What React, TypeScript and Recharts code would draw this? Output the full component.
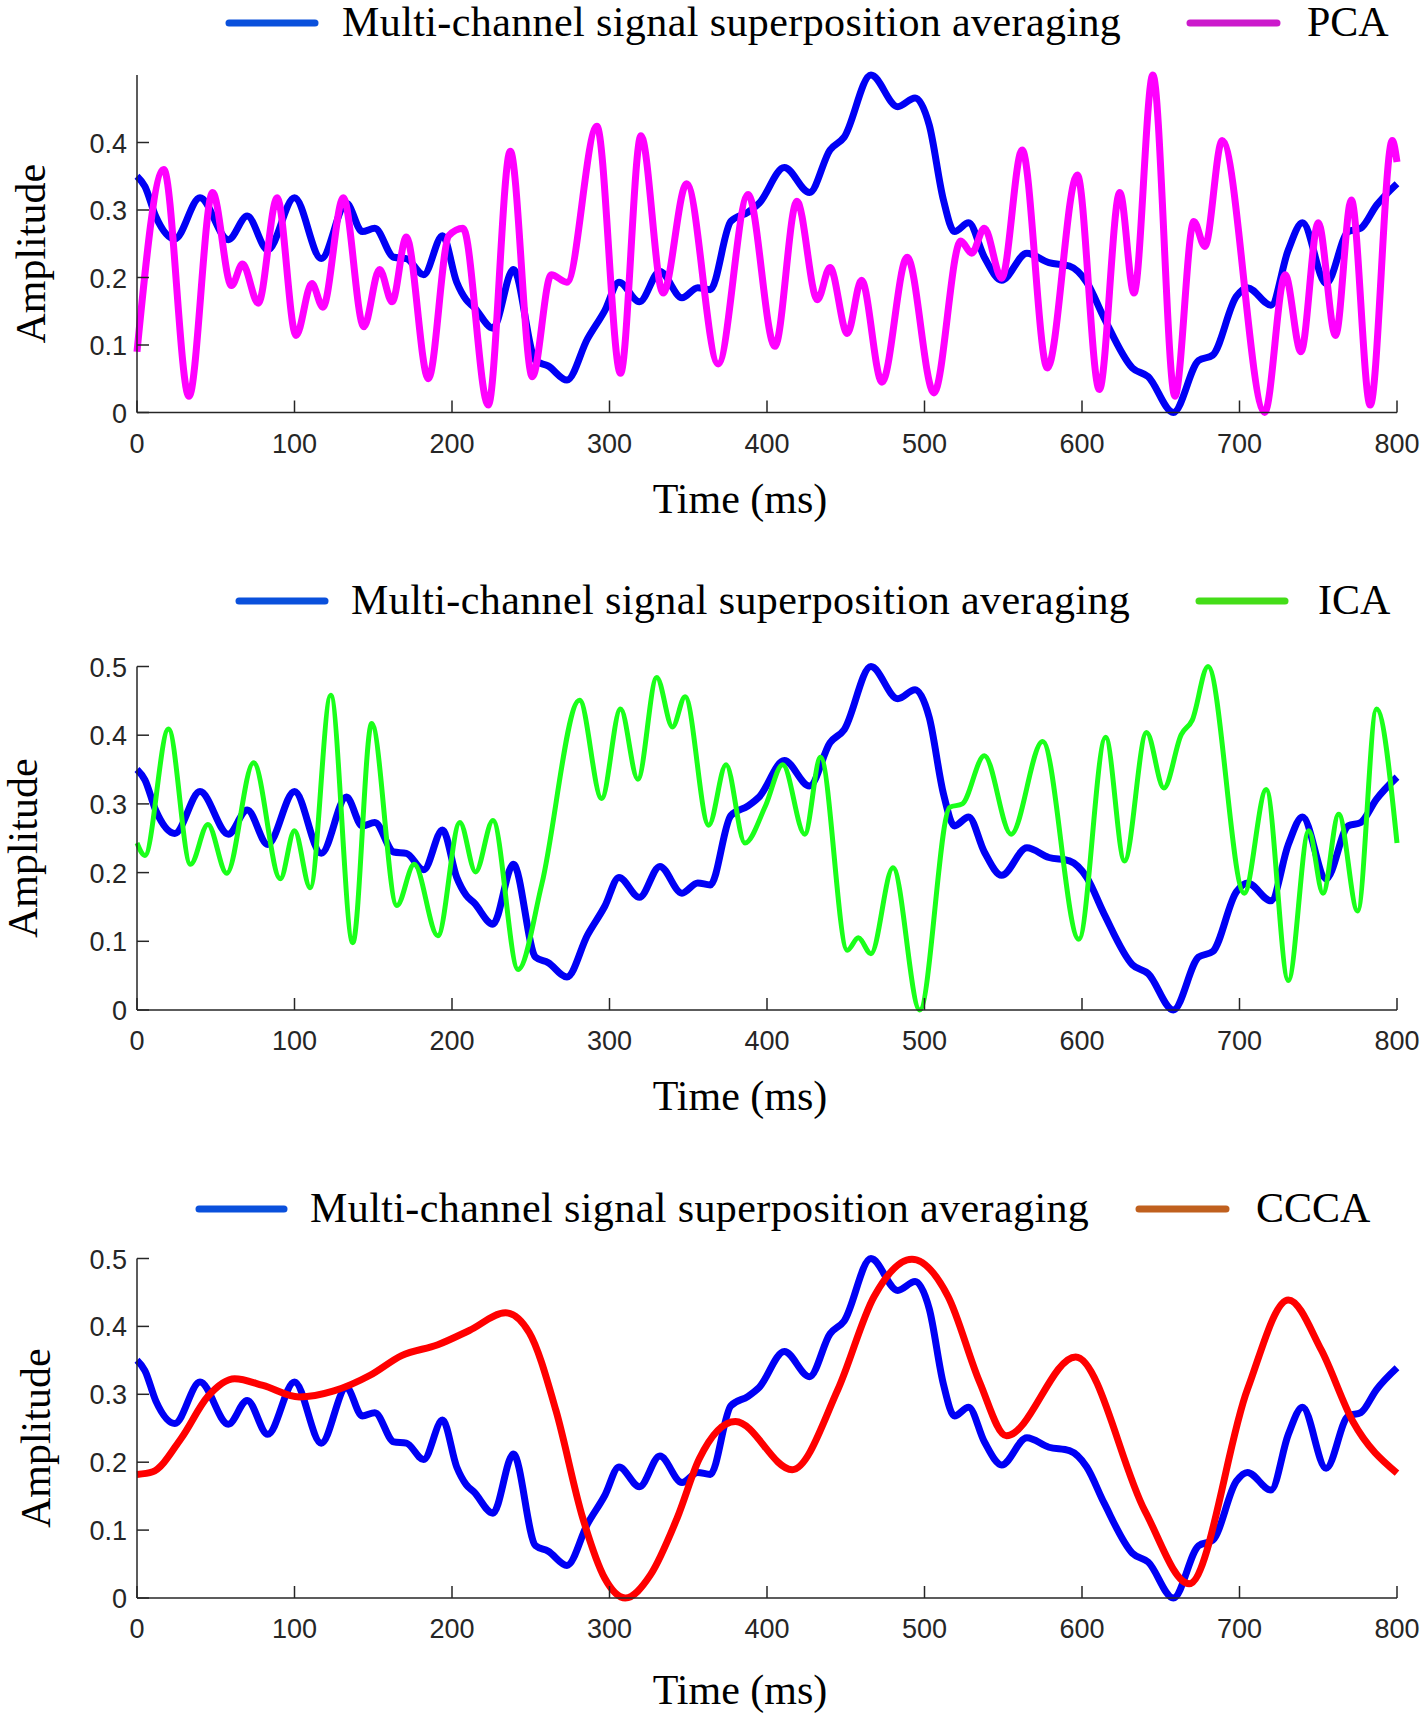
import React from 'react'
import { LineChart, Line, XAxis, YAxis } from 'recharts'

/* ---------- data ---------- */
const timeTicks = [0, 100, 200, 300, 400, 500, 600, 700, 800]
const ampTicksShort = [0, 0.1, 0.2, 0.3, 0.4]
const ampTicks = [0, 0.1, 0.2, 0.3, 0.4, 0.5]

// [time ms, amplitude]
const averaging: [number, number][] = [
  [0, 0.35], [5, 0.335], [12, 0.29], [24, 0.257], [40, 0.318], [58, 0.256], [70, 0.291],
  [83, 0.241], [100, 0.318], [117, 0.228], [133, 0.31], [143, 0.268], [151, 0.273],
  [163, 0.23], [171, 0.228], [182, 0.204], [194, 0.262], [203, 0.193], [209, 0.167],
  [214, 0.156], [226, 0.125], [239, 0.212], [253, 0.077], [261, 0.069], [273, 0.048],
  [286, 0.109], [297, 0.151], [306, 0.193], [319, 0.164], [332, 0.209], [346, 0.17],
  [356, 0.185], [364, 0.182], [377, 0.283], [388, 0.297], [395, 0.31], [411, 0.363],
  [427, 0.326], [440, 0.389], [449, 0.408], [466, 0.5], [483, 0.453], [494, 0.466],
  [503, 0.426], [512, 0.315], [519, 0.268], [528, 0.281], [538, 0.23], [549, 0.196],
  [565, 0.236], [579, 0.222], [592, 0.217], [603, 0.193], [614, 0.14], [632, 0.066],
  [642, 0.053], [658, 0], [674, 0.077], [683, 0.085], [698, 0.172], [705, 0.185],
  [720, 0.159], [731, 0.241], [740, 0.281], [755, 0.191], [769, 0.268], [777, 0.273],
  [787, 0.307], [800, 0.339],
]

const pca: [number, number][] = [
  [0, 0.09], [17, 0.36], [33, 0.024], [48, 0.326], [60, 0.188], [67, 0.22], [77, 0.162],
  [89, 0.318], [101, 0.114], [111, 0.191], [118, 0.156], [131, 0.318], [144, 0.127],
  [154, 0.212], [162, 0.164], [171, 0.26], [185, 0.05], [198, 0.262], [207, 0.273],
  [223, 0.011], [237, 0.387], [251, 0.053], [263, 0.204], [273, 0.193], [292, 0.424],
  [307, 0.058], [320, 0.41], [334, 0.177], [349, 0.339], [369, 0.072], [388, 0.323],
  [405, 0.098], [419, 0.313], [432, 0.167], [440, 0.215], [451, 0.117], [460, 0.196],
  [473, 0.045], [489, 0.23], [506, 0.029], [523, 0.254], [530, 0.236], [538, 0.273],
  [549, 0.199], [562, 0.389], [578, 0.066], [597, 0.352], [611, 0.034], [624, 0.326],
  [633, 0.177], [645, 0.5], [659, 0.024], [671, 0.283], [678, 0.246], [689, 0.403],
  [716, 0], [729, 0.204], [739, 0.09], [750, 0.281], [761, 0.114], [771, 0.315],
  [783, 0.011], [797, 0.403], [800, 0.371],
]

const ica: [number, number][] = [
  [0, 0.243], [5, 0.225], [20, 0.409], [34, 0.212], [45, 0.27], [57, 0.199], [74, 0.36],
  [91, 0.191], [100, 0.261], [110, 0.178], [123, 0.458], [137, 0.098], [149, 0.417],
  [165, 0.152], [176, 0.212], [191, 0.108], [205, 0.273], [215, 0.201], [226, 0.276],
  [242, 0.059], [257, 0.183], [281, 0.451], [295, 0.308], [307, 0.438], [318, 0.336],
  [330, 0.484], [340, 0.412], [348, 0.456], [363, 0.269], [374, 0.357], [386, 0.243],
  [399, 0.297], [410, 0.357], [424, 0.256], [434, 0.368], [451, 0.087], [458, 0.105],
  [466, 0.082], [480, 0.207], [497, 0], [516, 0.295], [524, 0.3], [538, 0.37],
  [555, 0.256], [575, 0.391], [598, 0.103], [615, 0.397], [627, 0.217], [641, 0.404],
  [652, 0.323], [663, 0.401], [670, 0.422], [680, 0.5], [703, 0.17], [717, 0.321],
  [731, 0.043], [744, 0.261], [753, 0.17], [763, 0.285], [775, 0.144], [787, 0.438],
  [800, 0.243],
]

const ccca: [number, number][] = [
  [0, 0.182], [10, 0.186], [28, 0.235], [45, 0.297], [62, 0.323], [80, 0.313],
  [103, 0.296], [125, 0.305], [148, 0.328], [168, 0.357], [191, 0.373], [211, 0.394],
  [234, 0.42], [249, 0.391], [266, 0.276], [283, 0.118], [297, 0.029], [310, 0],
  [326, 0.034], [343, 0.118], [357, 0.205], [380, 0.26], [416, 0.189], [445, 0.307],
  [468, 0.444], [492, 0.499], [515, 0.444], [535, 0.318], [552, 0.239],
  [596, 0.355], [640, 0.128], [668, 0.021], [705, 0.307],
  [731, 0.439], [752, 0.365], [772, 0.26], [800, 0.184],
]

const AVG_LABEL = 'Multi-channel signal superposition averaging'

/* ---------- styling ---------- */
const W = 1421
const AXIS = '#262626'
const SERIF = '"Liberation Serif", "Times New Roman", serif'
const SANS = '"Liberation Sans", Arial, sans-serif'
const BLUE = '#0000f5'

const toRows = (pts: [number, number][]) => pts.map(([t, v]) => ({ t, v }))

function XTick(props: any) {
  const { x, y, payload } = props
  return (
    <g>
      <line x1={x} y1={y} x2={x} y2={y - 12} stroke={AXIS} strokeWidth={1.5} />
      <text x={x} y={y + 40} textAnchor="middle" fontFamily={SANS} fontSize={27} fill={AXIS}>
        {payload.value}
      </text>
    </g>
  )
}

function YTick(props: any) {
  const { x, y, payload } = props
  return (
    <g>
      <line x1={x} y1={y} x2={x + 12} y2={y} stroke={AXIS} strokeWidth={1.5} />
      <text x={x - 10} y={y + 10} textAnchor="end" fontFamily={SANS} fontSize={27} fill={AXIS}>
        {payload.value}
      </text>
    </g>
  )
}

type PanelCfg = {
  top: number
  height: number
  plotTop: number
  plotBottom: number
  yTicks: number[]
  other: [number, number][]
  otherName: string
  otherColor: string
  otherWidth: number
  otherLegend: string
  legendY: number
  legend: { avgLine: [number, number]; avgText: number; otherLine: [number, number]; otherText: number }
  yLabelX: number
  xLabelDy: number
}

const PLOT_LEFT = 137
const PLOT_RIGHT = 1397

function Panel({ cfg }: { cfg: PanelCfg }) {
  const margin = {
    top: cfg.plotTop,
    right: W - PLOT_RIGHT,
    bottom: cfg.height - cfg.plotBottom - 1,
    left: PLOT_LEFT - 1,
  }
  const cx = (PLOT_LEFT + PLOT_RIGHT) / 2
  const cy = (cfg.plotTop + cfg.plotBottom) / 2 + 10
  const lg = cfg.legend
  return (
    <div style={{ position: 'absolute', left: 0, top: cfg.top, width: W, height: cfg.height }}>
      <LineChart width={W} height={cfg.height} margin={margin}>
        <XAxis
          type="number"
          dataKey="t"
          domain={[0, 800]}
          ticks={timeTicks}
          interval={0}
          height={1}
          tickSize={0}
          tickMargin={0}
          tickLine={false}
          axisLine={{ stroke: AXIS, strokeWidth: 1.5 }}
          tick={(p: any) => <XTick {...p} />}
        />
        <YAxis
          type="number"
          domain={[0, 0.5]}
          ticks={cfg.yTicks}
          interval={0}
          width={1}
          tickSize={0}
          tickMargin={0}
          tickLine={false}
          axisLine={{ stroke: AXIS, strokeWidth: 1.5 }}
          tick={(p: any) => <YTick {...p} />}
        />
        <Line
          data={toRows(averaging)}
          dataKey="v"
          name={AVG_LABEL}
          type="monotone"
          stroke={BLUE}
          strokeWidth={7}
          dot={false}
          isAnimationActive={false}
        />
        <Line
          data={toRows(cfg.other)}
          dataKey="v"
          name={cfg.otherName}
          type="monotone"
          stroke={cfg.otherColor}
          strokeWidth={cfg.otherWidth}
          dot={false}
          isAnimationActive={false}
        />
      </LineChart>
      <svg
        width={W}
        height={cfg.height}
        style={{ position: 'absolute', left: 0, top: 0, pointerEvents: 'none' }}
      >
        <line x1={lg.avgLine[0]} x2={lg.avgLine[1]} y1={cfg.legendY} y2={cfg.legendY}
          stroke="#0a50dc" strokeWidth={7} strokeLinecap="round" />
        <text x={lg.avgText} y={cfg.legendY + 13} fontFamily={SERIF} fontSize={42} fill="#000"
          letterSpacing={0.4}>
          {AVG_LABEL}
        </text>
        <line x1={lg.otherLine[0]} x2={lg.otherLine[1]} y1={cfg.legendY} y2={cfg.legendY}
          stroke={cfg.otherLegend} strokeWidth={7} strokeLinecap="round" />
        <text x={lg.otherText} y={cfg.legendY + 13} fontFamily={SERIF} fontSize={42} fill="#000">
          {cfg.otherName}
        </text>
        <text x={cx - 27} y={cfg.plotBottom + cfg.xLabelDy} textAnchor="middle"
          fontFamily={SERIF} fontSize={42} fill="#000">
          Time (ms)
        </text>
        <text x={cfg.yLabelX} y={cy} textAnchor="middle" transform={`rotate(-90, ${cfg.yLabelX}, ${cy})`}
          fontFamily={SERIF} fontSize={42} fill="#000">
          Amplitude
        </text>
      </svg>
    </div>
  )
}

const panels: PanelCfg[] = [
  {
    top: 0, height: 560, plotTop: 75, plotBottom: 412.5, yTicks: ampTicksShort,
    other: pca, otherName: 'PCA', otherColor: '#ff00ff', otherWidth: 7, otherLegend: '#cc1acc',
    legendY: 23,
    legend: { avgLine: [229, 315], avgText: 342, otherLine: [1190, 1277], otherText: 1307 },
    yLabelX: 45, xLabelDy: 100,
  },
  {
    top: 560, height: 580, plotTop: 106.5, plotBottom: 450, yTicks: ampTicks,
    other: ica, otherName: 'ICA', otherColor: '#1aff1a', otherWidth: 5, otherLegend: '#44dd18',
    legendY: 41,
    legend: { avgLine: [239, 325], avgText: 351, otherLine: [1199, 1285], otherText: 1318 },
    yLabelX: 37, xLabelDy: 100,
  },
  {
    top: 1140, height: 581, plotTop: 118.5, plotBottom: 458, yTicks: ampTicks,
    other: ccca, otherName: 'CCCA', otherColor: '#ff0000', otherWidth: 7, otherLegend: '#c0601e',
    legendY: 69,
    legend: { avgLine: [199, 284], avgText: 310, otherLine: [1139, 1226], otherText: 1256 },
    yLabelX: 50, xLabelDy: 106,
  },
]

export default function App() {
  return (
    <div style={{ position: 'absolute', left: 0, top: 0, width: W, height: 1721, background: '#fff' }}>
      {panels.map((p) => (
        <Panel key={p.otherName} cfg={p} />
      ))}
    </div>
  )
}
